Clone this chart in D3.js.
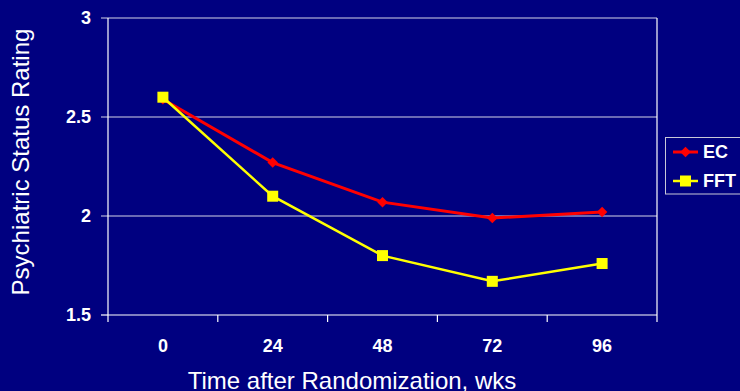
<!DOCTYPE html>
<html lang="en">
<head>
  <meta charset="UTF-8">
  <title>Psychiatric Status Rating</title>
  <style>
    body { margin: 0; background: #000080; }
    svg { display: block; }
    text { font-family: Arial, "Liberation Sans", sans-serif; fill: #fff; }
    .tick-label { font-size: 18px; font-weight: bold; }
    .axis-title { font-size: 24px; }
    .legend text { font-size: 18px; font-weight: bold; }
  </style>
</head>
<body>
  <svg id="chart" width="740" height="391"></svg>
  <script src="https://d3js.org/d3.v7.min.js"></script>
  <script>
    // chart values
    const weeks = ["0", "24", "48", "72", "96"];
    const ecValues = [2.59, 2.27, 2.07, 1.99, 2.02];
    const fftValues = [2.6, 2.1, 1.8, 1.67, 1.76];
    const yTicks = [1.5, 2, 2.5, 3];
    const seriesNames = ["EC", "FFT"];

    const svg = d3.select("#chart");
    const plot = { left: 108, right: 657, top: 18, bottom: 315 };

    svg.append("rect").attr("width", 740).attr("height", 391).attr("fill", "#000080");

    const x = d3.scaleBand().domain(weeks).range([plot.left, plot.right]).padding(0);
    const y = d3.scaleLinear().domain([1.5, 3]).range([plot.bottom, plot.top]);

    // gridlines + y ticks
    svg.append("g").selectAll("line")
      .data(yTicks.filter(t => t > 1.5))
      .join("line")
        .attr("x1", plot.left - 7).attr("x2", plot.right)
        .attr("y1", d => y(d)).attr("y2", d => y(d))
        .attr("stroke", "#d4d4e8").attr("stroke-width", 1.2);

    svg.append("line")
      .attr("x1", plot.left - 7).attr("x2", plot.left)
      .attr("y1", y(1.5)).attr("y2", y(1.5))
      .attr("stroke", "#fff").attr("stroke-width", 1.2);

    svg.append("g").selectAll("text")
      .data(yTicks)
      .join("text")
        .attr("class", "tick-label")
        .attr("x", plot.left - 17)
        .attr("y", d => y(d))
        .attr("dy", "0.36em")
        .attr("text-anchor", "end")
        .text(d => d);

    // axes / plot border
    svg.append("line")
      .attr("x1", plot.left).attr("x2", plot.left)
      .attr("y1", plot.top).attr("y2", plot.bottom)
      .attr("stroke", "#fff").attr("stroke-width", 1.2);
    svg.append("line")
      .attr("x1", plot.right).attr("x2", plot.right)
      .attr("y1", plot.top).attr("y2", plot.bottom)
      .attr("stroke", "#fff").attr("stroke-width", 1.2);
    svg.append("line")
      .attr("x1", plot.left).attr("x2", plot.right)
      .attr("y1", plot.bottom).attr("y2", plot.bottom)
      .attr("stroke", "#fff").attr("stroke-width", 1.2);

    // x ticks at category boundaries
    const bounds = weeks.map(w => x(w)).concat([x(weeks[weeks.length - 1]) + x.bandwidth()]);
    svg.append("g").selectAll("line")
      .data(bounds)
      .join("line")
        .attr("x1", d => d).attr("x2", d => d)
        .attr("y1", plot.bottom).attr("y2", plot.bottom + 7)
        .attr("stroke", "#fff").attr("stroke-width", 1.2);

    svg.append("g").selectAll("text")
      .data(weeks)
      .join("text")
        .attr("class", "tick-label")
        .attr("x", d => x(d) + x.bandwidth() / 2)
        .attr("y", 352)
        .attr("text-anchor", "middle")
        .text(d => d);

    // axis titles
    svg.append("text")
      .attr("class", "axis-title")
      .attr("x", 352).attr("y", 389)
      .attr("text-anchor", "middle")
      .text("Time after Randomization, wks");

    svg.append("text")
      .attr("class", "axis-title")
      .attr("transform", "translate(29,162) rotate(-90)")
      .attr("text-anchor", "middle")
      .text("Psychiatric Status Rating");

    const cx = d => x(d) + x.bandwidth() / 2;
    const line = d3.line().x((d, i) => cx(weeks[i])).y(d => y(d));
    const diamond = d3.symbol().type(d3.symbolDiamond2).size(70);

    // EC series
    svg.append("path").datum(ecValues)
      .attr("d", line).attr("fill", "none")
      .attr("stroke", "#ff0000").attr("stroke-width", 3);
    svg.append("g").selectAll("path")
      .data(ecValues)
      .join("path")
        .attr("d", diamond)
        .attr("transform", (d, i) => `translate(${cx(weeks[i])},${y(d)})`)
        .attr("fill", "#ff0000");

    // FFT series
    svg.append("path").datum(fftValues)
      .attr("d", line).attr("fill", "none")
      .attr("stroke", "#ffff00").attr("stroke-width", 2.5);
    svg.append("g").selectAll("rect")
      .data(fftValues)
      .join("rect")
        .attr("x", (d, i) => cx(weeks[i]) - 5.5)
        .attr("y", d => y(d) - 5.5)
        .attr("width", 11).attr("height", 11)
        .attr("fill", "#ffff00");

    // legend
    const legend = svg.append("g").attr("class", "legend");
    legend.append("rect")
      .attr("x", 665.5).attr("y", 137.5)
      .attr("width", 90).attr("height", 56.5)
      .attr("fill", "#000080").attr("stroke", "#c8c8d8").attr("stroke-width", 1);

    const colors = { EC: "#ff0000", FFT: "#ffff00" };
    seriesNames.forEach((name, i) => {
      const ly = 152 + i * 29;
      legend.append("line")
        .attr("x1", 673).attr("x2", 698)
        .attr("y1", ly).attr("y2", ly)
        .attr("stroke", colors[name]).attr("stroke-width", name === "EC" ? 3 : 2.5);
      if (name === "EC") {
        legend.append("path").attr("d", diamond)
          .attr("transform", `translate(685.5,${ly})`).attr("fill", colors[name]);
      } else {
        legend.append("rect")
          .attr("x", 680).attr("y", ly - 5.5).attr("width", 11).attr("height", 11)
          .attr("fill", colors[name]);
      }
      legend.append("text")
        .attr("x", 703).attr("y", ly).attr("dy", "0.36em")
        .text(name);
    });
  </script>
</body>
</html>
